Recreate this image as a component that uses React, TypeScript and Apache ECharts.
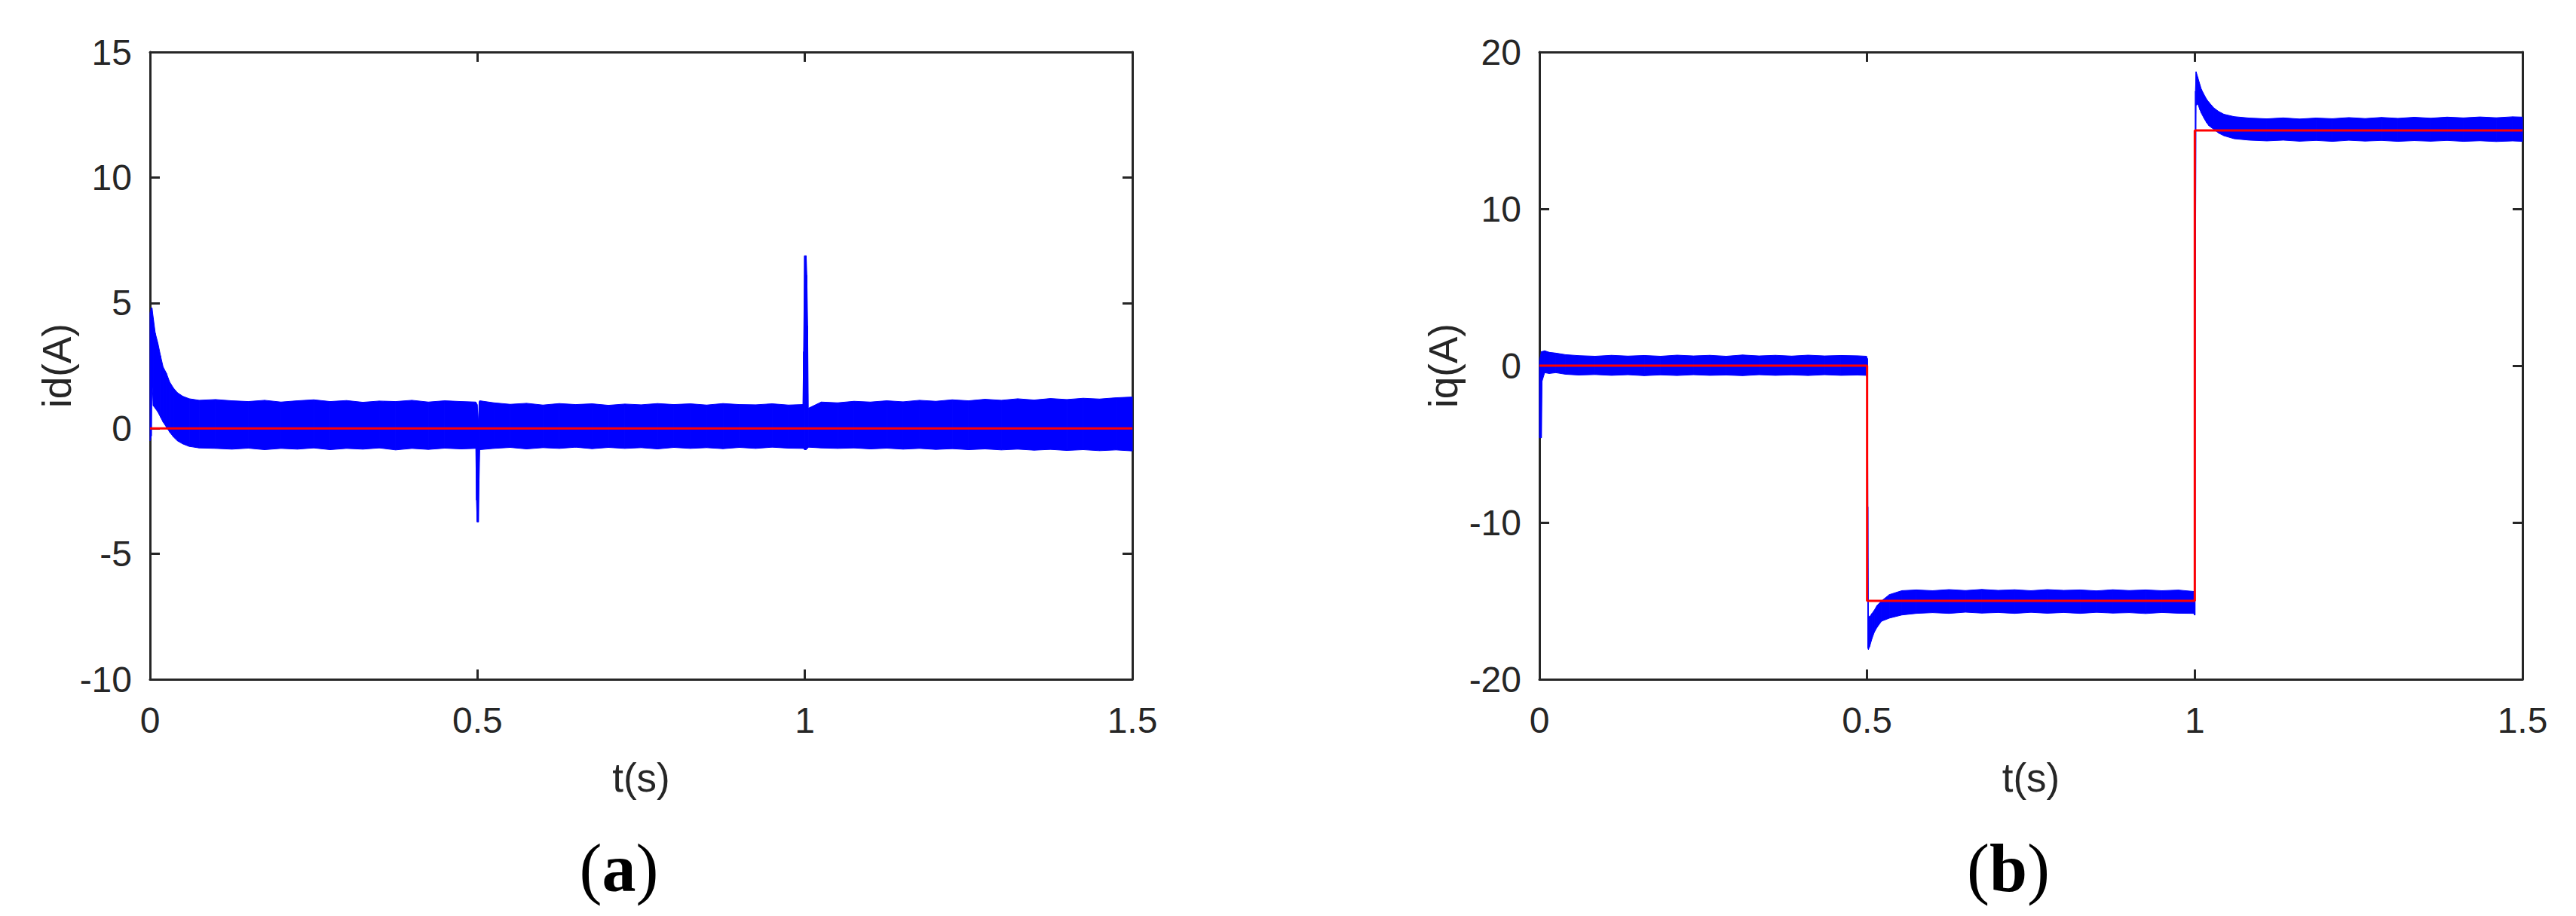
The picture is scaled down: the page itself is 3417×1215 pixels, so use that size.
import React, { useEffect, useRef } from 'react';
import * as echarts from 'echarts';

// ---------- data ----------
// (a) id(A): envelope of the measured (blue) current
const aTime = [0, 0.002, 0.003, 0.005, 0.008, 0.012, 0.016, 0.020, 0.025, 0.030, 0.036, 0.042, 0.050, 0.060, 0.075,
  0.100, 0.125, 0.150, 0.175, 0.200, 0.225, 0.250, 0.275, 0.300, 0.325, 0.350, 0.375, 0.400, 0.425, 0.450, 0.475,
  0.4975, 0.4985, 0.4995, 0.5015, 0.5025, 0.5035,
  0.525, 0.550, 0.575, 0.600, 0.625, 0.650, 0.675, 0.700, 0.725, 0.750, 0.775, 0.800, 0.825, 0.850, 0.875, 0.900,
  0.925, 0.950, 0.975, 0.997, 0.998, 0.9995, 1.002, 1.003, 1.0042, 1.0052,
  1.025, 1.050, 1.075, 1.100, 1.125, 1.150, 1.175, 1.200, 1.225, 1.250, 1.275, 1.300, 1.325, 1.350, 1.375, 1.400,
  1.425, 1.450, 1.475, 1.500];
const aLow = [-0.5, -0.3, 1.9, 0.9, 0.8, 0.65, 0.45, 0.25, 0.05, -0.15, -0.35, -0.5, -0.62, -0.72, -0.78,
  -0.80, -0.83, -0.79, -0.85, -0.80, -0.83, -0.78, -0.85, -0.80, -0.83, -0.78, -0.86, -0.80, -0.84, -0.79, -0.82,
  -0.80, -2.86, -3.73, -3.73, -2.07, -0.85,
  -0.80, -0.76, -0.82, -0.77, -0.80, -0.75, -0.81, -0.76, -0.80, -0.77, -0.82, -0.76, -0.80, -0.77, -0.81, -0.76,
  -0.80, -0.75, -0.79, -0.80, -0.80, -0.85, -0.85, -0.80, -0.80, -0.75,
  -0.78, -0.80, -0.78, -0.82, -0.79, -0.83, -0.80, -0.84, -0.81, -0.85, -0.82, -0.86, -0.83, -0.87, -0.84, -0.88,
  -0.85, -0.89, -0.86, -0.90];
const aHigh = [4.6, 4.8, 4.8, 4.4, 3.8, 3.4, 2.9, 2.45, 2.2, 1.85, 1.6, 1.42, 1.28, 1.18, 1.12,
  1.15, 1.10, 1.07, 1.12, 1.05, 1.10, 1.14, 1.07, 1.11, 1.04, 1.09, 1.07, 1.12, 1.05, 1.10, 1.07,
  1.05, 1.00, 0.95, 0.24, 1.05, 1.10,
  1.02, 0.96, 1.00, 0.93, 0.99, 0.95, 0.98, 0.92, 0.97, 0.94, 0.99, 0.95, 0.98, 0.93, 0.99, 0.95,
  0.94, 0.98, 0.93, 0.95, 3.06, 6.88, 6.88, 6.10, 4.10, 0.80,
  1.05, 1.02, 1.08, 1.05, 1.10, 1.06, 1.12, 1.08, 1.14, 1.10, 1.16, 1.12, 1.18, 1.13, 1.19, 1.15,
  1.20, 1.17, 1.22, 1.25];
// (a) reference id*
const aRefTime = [0, 1.5];
const aRefValue = [0, 0];

// (b) iq(A): envelope of the measured (blue) current
const bTime = [0, 0.003, 0.004, 0.008, 0.015, 0.025, 0.040, 0.060, 0.085, 0.110, 0.135, 0.160, 0.185, 0.210, 0.235,
  0.260, 0.285, 0.310, 0.335, 0.360, 0.385, 0.410, 0.435, 0.460, 0.485, 0.4990, 0.4998, 0.5005, 0.5012, 0.5020,
  0.5040, 0.5075, 0.5110, 0.5150, 0.5220, 0.5340, 0.5530, 0.5750, 0.600, 0.625, 0.650, 0.675, 0.700, 0.725, 0.750,
  0.775, 0.800, 0.825, 0.850, 0.875, 0.900, 0.925, 0.950, 0.975, 0.9985, 0.9995, 1.0003, 1.0010, 1.0020, 1.0045,
  1.0080, 1.0100, 1.0140, 1.0180, 1.0215, 1.0292, 1.0368, 1.0445, 1.0600, 1.0830, 1.110, 1.135, 1.160, 1.185,
  1.210, 1.235, 1.260, 1.285, 1.310, 1.335, 1.360, 1.385, 1.410, 1.435, 1.460, 1.485, 1.500];
const bLow = [-4.6, -4.6, -1.0, -0.45, -0.50, -0.45, -0.55, -0.60, -0.57, -0.62, -0.58, -0.64, -0.59, -0.63, -0.58,
  -0.62, -0.60, -0.64, -0.58, -0.62, -0.59, -0.63, -0.58, -0.62, -0.60, -0.62, -0.75, -4.0, -18.0, -18.1,
  -17.9, -17.4, -17.0, -16.7, -16.3, -16.1, -15.9, -15.8, -15.75, -15.80, -15.72, -15.78, -15.74, -15.80, -15.73,
  -15.79, -15.74, -15.80, -15.73, -15.78, -15.75, -15.81, -15.74, -15.79, -15.80, -15.90, -15.90, 5.5, 16.6, 16.7,
  16.3, 16.1, 15.78, 15.5, 15.3, 15.06, 14.82, 14.66, 14.47, 14.38, 14.33, 14.38, 14.31, 14.36,
  14.30, 14.37, 14.32, 14.36, 14.30, 14.35, 14.31, 14.36, 14.30, 14.34, 14.29, 14.33, 14.30];
const bHigh = [0.3, 0.9, 0.9, 0.95, 0.85, 0.80, 0.70, 0.64, 0.60, 0.66, 0.61, 0.65, 0.60, 0.67, 0.62,
  0.66, 0.60, 0.68, 0.62, 0.66, 0.61, 0.67, 0.62, 0.65, 0.63, 0.60, 0.50, 0.45, -9.0, -16.0,
  -16.0, -15.8, -15.6, -15.3, -15.0, -14.6, -14.35, -14.30, -14.35, -14.28, -14.34, -14.27, -14.33, -14.29, -14.35,
  -14.28, -14.33, -14.30, -14.36, -14.29, -14.34, -14.30, -14.35, -14.31, -14.40, -14.50, 5.5, 17.5, 18.75, 18.4,
  17.9, 17.63, 17.3, 16.99, 16.8, 16.43, 16.2, 16.03, 15.88, 15.79, 15.74, 15.80, 15.73, 15.79,
  15.75, 15.82, 15.76, 15.83, 15.77, 15.84, 15.78, 15.85, 15.80, 15.86, 15.81, 15.87, 15.85];
// (b) reference iq*
const bRefTime = [0, 0.5, 0.5, 1.0, 1.0, 1.5];
const bRefValue = [0, 0, -15, -15, 15, 15];

const xTicks = { min: 0, max: 1.5, interval: 0.5 };
const aY = { min: -10, max: 15, interval: 5 };
const bY = { min: -20, max: 20, interval: 10 };

// ---------- styling ----------
const W = 3417;
const H = 1215;
const AX = '#262626';
const SANS = 'Liberation Sans, Arial, Helvetica, sans-serif';
const SERIF = 'Liberation Serif, Times New Roman, serif';

function bandRows(t: number[], lo: number[], hi: number[]) {
  return t.slice(0, -1).map((v, i) => [v, lo[i], hi[i], t[i + 1], lo[i + 1], hi[i + 1]]);
}

function bandSeries(rows: number[][], xi: number, yi: number) {
  return {
    type: 'custom',
    xAxisIndex: xi,
    yAxisIndex: yi,
    silent: true,
    data: rows,
    encode: { x: [0, 3], y: [1, 2, 4, 5] },
    renderItem: (params: any, api: any) => {
      const p = [
        api.coord([api.value(0), api.value(1)]),
        api.coord([api.value(0), api.value(2)]),
        api.coord([api.value(3), api.value(5)]),
        api.coord([api.value(3), api.value(4)]),
      ];
      return {
        type: 'polygon',
        shape: { points: p },
        style: { fill: '#0000ff', stroke: '#0000ff', lineWidth: 1 },
      };
    },
  };
}

function refSeries(t: number[], v: number[], xi: number, yi: number) {
  return {
    type: 'line',
    xAxisIndex: xi,
    yAxisIndex: yi,
    silent: true,
    showSymbol: false,
    symbol: 'none',
    data: t.map((x, i) => [x, v[i]]),
    lineStyle: { color: '#ff0000', width: 3 },
    z: 5,
  };
}

const lineStyle = { color: AX, width: 3 };

function xAxesFor(gridIndex: number) {
  return [
    {
      type: 'value', gridIndex, position: 'bottom', ...xTicks,
      axisLine: { show: true, onZero: false, lineStyle },
      axisTick: { show: true, inside: true, length: 13, lineStyle },
      axisLabel: { show: true, margin: 30, fontSize: 48, fontFamily: SANS, color: AX, showMinLabel: true, showMaxLabel: true },
      splitLine: { show: false },
      name: 't(s)', nameLocation: 'middle', nameGap: 104,
      nameTextStyle: { fontSize: 53, fontFamily: SANS, color: AX },
    },
    {
      type: 'value', gridIndex, position: 'top', ...xTicks,
      axisLine: { show: true, onZero: false, lineStyle },
      axisTick: { show: true, inside: true, length: 13, lineStyle },
      axisLabel: { show: false },
      splitLine: { show: false },
    },
  ];
}

function yAxesFor(gridIndex: number, range: any, name: string, gap: number) {
  return [
    {
      type: 'value', gridIndex, position: 'left', ...range,
      axisLine: { show: true, onZero: false, lineStyle },
      axisTick: { show: true, inside: true, length: 13, lineStyle },
      axisLabel: { show: true, margin: 24, fontSize: 48, fontFamily: SANS, color: AX, showMinLabel: true, showMaxLabel: true },
      splitLine: { show: false },
      name, nameLocation: 'middle', nameGap: gap, nameRotate: 90,
      nameTextStyle: { fontSize: 53, fontFamily: SANS, color: AX },
    },
    {
      type: 'value', gridIndex, position: 'right', ...range,
      axisLine: { show: true, onZero: false, lineStyle },
      axisTick: { show: true, inside: true, length: 13, lineStyle },
      axisLabel: { show: false },
      splitLine: { show: false },
    },
  ];
}

function caption(letter: string, x: number, y: number) {
  return {
    type: 'text',
    x,
    y,
    silent: true,
    style: {
      text: '{p|(}{b|' + letter + '}{p|)}',
      align: 'center',
      verticalAlign: 'middle',
      rich: {
        p: { fontFamily: SERIF, fontSize: 90, fill: '#000000' },
        b: { fontFamily: SERIF, fontSize: 90, fontWeight: 'bold', fill: '#000000' },
      },
    },
  };
}

const option = {
  animation: false,
  backgroundColor: '#ffffff',
  grid: [
    { left: 199, top: 69, width: 1303, height: 832, containLabel: false, outerBoundsMode: 'none' },
    { left: 2042, top: 69, width: 1304, height: 832, containLabel: false, outerBoundsMode: 'none' },
  ],
  xAxis: [...xAxesFor(0), ...xAxesFor(1)],
  yAxis: [...yAxesFor(0, aY, 'id(A)', 97), ...yAxesFor(1, bY, 'iq(A)', 101)],
  series: [
    bandSeries(bandRows(aTime, aLow, aHigh), 0, 0),
    refSeries(aRefTime, aRefValue, 0, 0),
    bandSeries(bandRows(bTime, bLow, bHigh), 2, 2),
    refSeries(bRefTime, bRefValue, 2, 2),
  ],
  graphic: [caption('a', 821, 1151), caption('b', 2664, 1151)],
};

export default function App() {
  const ref = useRef<HTMLDivElement>(null);
  useEffect(() => {
    const chart = echarts.init(ref.current as HTMLDivElement, null, { renderer: 'svg', width: W, height: H });
    chart.setOption(option as any);
    return () => chart.dispose();
  }, []);
  return (
    <div
      ref={ref}
      style={{ position: 'absolute', left: 0, top: 0, width: W, height: H, background: '#ffffff' }}
    />
  );
}
